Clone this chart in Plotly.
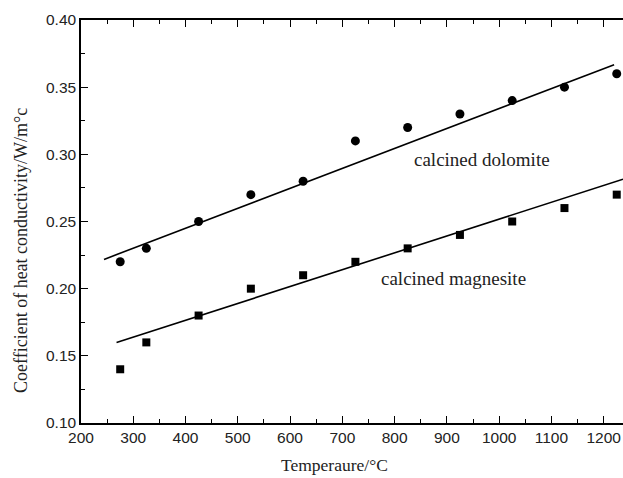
import plotly.graph_objects as go

temperature = [275, 325, 425, 525, 625, 725, 825, 925, 1025, 1125, 1225]
dolomite = [0.22, 0.23, 0.25, 0.27, 0.28, 0.31, 0.32, 0.33, 0.34, 0.35, 0.36]
magnesite = [0.14, 0.16, 0.18, 0.20, 0.21, 0.22, 0.23, 0.24, 0.25, 0.26, 0.27]

dolomite_fit_x = [244, 1220]
dolomite_fit_y = [0.2218, 0.3667]
magnesite_fit_x = [268, 1237]
magnesite_fit_y = [0.1599, 0.2815]

x_ticks = [200, 300, 400, 500, 600, 700, 800, 900, 1000, 1100, 1200]
y_ticks = [0.10, 0.15, 0.20, 0.25, 0.30, 0.35, 0.40]

fig = go.Figure()
fig.add_trace(go.Scatter(x=temperature, y=dolomite, mode="markers",
                         marker=dict(symbol="circle", size=9, color="black"),
                         showlegend=False, cliponaxis=False))
fig.add_trace(go.Scatter(x=temperature, y=magnesite, mode="markers",
                         marker=dict(symbol="square", size=8, color="black"),
                         showlegend=False, cliponaxis=False))
fig.add_trace(go.Scatter(x=dolomite_fit_x, y=dolomite_fit_y, mode="lines",
                         line=dict(color="black", width=1.6), showlegend=False))
fig.add_trace(go.Scatter(x=magnesite_fit_x, y=magnesite_fit_y, mode="lines",
                         line=dict(color="black", width=1.6), showlegend=False))

serif = "Liberation Serif, Times New Roman, serif"
sans = "Liberation Sans, Arial, sans-serif"

fig.update_layout(
    width=623, height=478,
    margin=dict(l=81, r=0, t=20, b=55),
    paper_bgcolor="white", plot_bgcolor="white",
    font=dict(family=sans, size=15.5, color="black"),
    xaxis=dict(range=[200, 1237], tickvals=x_ticks, ticks="inside", ticklen=7,
               tickwidth=1.2, tickcolor="black", showline=True, linecolor="black",
               linewidth=1.5, mirror="allticks", showgrid=False, zeroline=False,
               minor=dict(dtick=50, tick0=200, ticks="inside", ticklen=4, tickcolor="black", tickwidth=1),
               tickfont=dict(family=sans, size=15.5, color="#222")),
    yaxis=dict(range=[0.10, 0.40], tickvals=y_ticks, tickformat=".2f", ticks="inside",
               ticklen=7, tickwidth=1.2, tickcolor="black", showline=True, linecolor="black",
               linewidth=1.5, showgrid=False, zeroline=False,
               minor=dict(dtick=0.025, tick0=0.10, ticks="inside", ticklen=4, tickcolor="black", tickwidth=1),
               tickfont=dict(family=sans, size=15.5, color="#222")),
    annotations=[
        dict(text="calcined dolomite", x=482, y=159, xref="paper", yref="paper",
             showarrow=False, font=dict(family=serif, size=19, color="#222")),
        dict(text="calcined magnesite", x=453, y=278, xref="paper", yref="paper",
             showarrow=False, font=dict(family=serif, size=19, color="#222")),
        dict(text="Temperaure/°C", x=334, y=465, xref="paper", yref="paper",
             showarrow=False, font=dict(family=serif, size=17.5, color="#222")),
        dict(text="Coefficient of heat conductivity/W/m°c", x=21, y=251, xref="paper", yref="paper",
             showarrow=False, textangle=-90, font=dict(family=serif, size=18, color="#222")),
    ],
)

# convert pixel positions of annotations to paper coordinates
pw, ph = 623 - 81 - 0, 478 - 20 - 55
for a in fig.layout.annotations:
    px, py = a.x, a.y
    a.x = (px - 81) / pw
    a.y = 1 - (py - 20) / ph
    a.xanchor = "center"
    a.yanchor = "middle"

fig.write_html("out.html")
